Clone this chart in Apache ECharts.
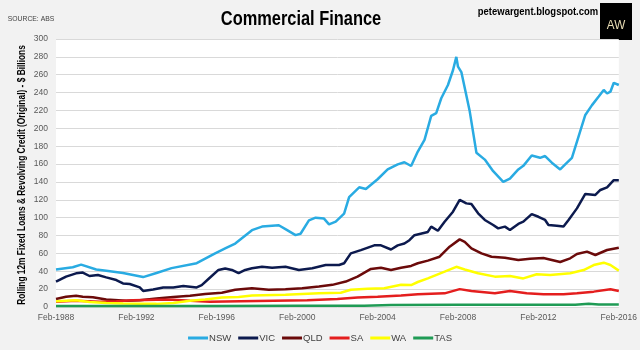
<!DOCTYPE html>
<html>
<head>
<meta charset="utf-8">
<script src="https://cdn.jsdelivr.net/npm/echarts@6/dist/echarts.min.js"></script>
<style>
  html, body { margin: 0; padding: 0; background: #f2f2f2; }
  #chart { width: 640px; height: 350px; }
</style>
</head>
<body>
<div id="chart"></div>
<script>
// x values are months since Feb-1988
const tickLabels = ["Feb-1988", "Feb-1992", "Feb-1996", "Feb-2000", "Feb-2004", "Feb-2008", "Feb-2012", "Feb-2016"];

const nsw = [
  [0, 42], [10, 44.5], [15, 47.5], [24, 42], [30, 40.5], [40, 38], [52, 33.5], [60, 38],
  [69, 43.5], [84, 49], [95, 60], [101, 65.5], [107, 71], [117, 86], [123, 90], [133, 91.5],
  [138, 86], [143, 80.5], [146, 82], [151, 97], [155, 100], [160, 99], [163, 92.5], [167, 95.5],
  [172, 104.6], [175, 123], [181, 134], [185, 132], [192, 143], [198, 154], [204, 159.6],
  [208, 162], [212, 157.8], [216, 174], [220, 187], [224, 214], [227, 217], [230, 233.7],
  [234, 248.5], [237, 265], [239, 280], [240, 269], [242, 263], [247, 219], [251, 172.6],
  [256, 165], [261, 152], [267, 140], [271, 143.7], [276, 154], [279, 158], [284, 169.6],
  [289, 167], [292, 169], [296, 161.5], [301, 154], [304, 159.6], [308, 167], [312, 191],
  [316, 215], [320, 226], [324, 235.6], [327, 243], [329, 239], [331, 241], [333, 251], [336, 248.5]
];
const vic = [
  [0, 28.3], [6, 34], [12, 37.7], [16, 38.5], [20, 34.7], [25, 35.8], [30, 33.2], [36, 30.2],
  [40, 26.4], [44, 25.7], [50, 21.9], [52, 18], [58, 19.6], [64, 21.9], [70, 21.9], [76, 23.4],
  [84, 21.9], [87, 24.5], [91, 31.3], [97, 41.5], [101, 43], [105, 41.5], [109, 37.8], [113, 41.5],
  [117, 43.3], [123, 45], [129, 44], [137, 45], [145, 41.5], [153, 43.3], [161, 47], [169, 47],
  [172, 49], [176, 60], [182, 63.7], [190, 69], [194, 69], [200, 64.4], [204, 69], [208, 71],
  [211, 74.8], [214, 80.4], [222, 84], [224, 90], [228, 85.4], [232, 95.5], [237, 106.7],
  [241, 119.8], [245, 116], [248, 115.3], [252, 104.9], [256, 97.4], [261, 91.8], [264, 88],
  [268, 90], [271, 86.2], [276, 93], [279, 95.5], [284, 104], [288, 101], [292, 97.4], [294, 91.8],
  [299, 91], [303, 90], [306, 97.4], [311, 110.4], [316, 126.5], [322, 125.4], [325, 131],
  [329, 134], [333, 142], [336, 142]
];
const qld = [
  [0, 9], [6, 11.5], [12, 12.5], [16, 11.5], [22, 11], [30, 8.5], [42, 7], [50, 7.5], [60, 9.4],
  [70, 11.3], [80, 12.5], [89, 14.5], [99, 16], [107, 19.3], [117, 21], [127, 19.3], [137, 20],
  [147, 21], [157, 23], [165, 24.8], [173, 28.5], [180, 34], [188, 42.6], [194, 44], [200, 41.5],
  [206, 44], [212, 46], [216, 49], [222, 51.9], [229, 56.3], [235, 67.5], [241, 75.7], [244, 73],
  [248, 65.7], [254, 60], [260, 56.3], [268, 55.2], [276, 52.6], [283, 54], [291, 54.8],
  [301, 50.4], [307, 54.5], [311, 59.3], [317, 62], [322, 58.2], [329, 63.8], [336, 66.4]
];
const sa = [
  [0, 6], [12, 7], [26, 6], [36, 6.5], [46, 7.5], [60, 8], [70, 8], [80, 7], [92, 6], [110, 6.5],
  [130, 7], [150, 7.5], [168, 9], [180, 10.5], [192, 11.6], [206, 13], [216, 14.2], [232, 15.3],
  [241, 20], [248, 18], [262, 15.3], [271, 18], [281, 15.3], [291, 14.2], [303, 14.2],
  [311, 15.3], [321, 17.2], [331, 19.8], [336, 18]
];
const wa = [
  [0, 6.5], [6, 7], [12, 7.5], [20, 5.5], [30, 4.5], [40, 3.8], [50, 3.5], [60, 3.5], [70, 4.5],
  [80, 7], [89, 8.5], [99, 10.6], [109, 11.3], [117, 13], [137, 13.7], [157, 15.5], [170, 16],
  [176, 19.3], [186, 20.4], [196, 21], [206, 24.8], [212, 24.6], [216, 28], [222, 32], [232, 39.5],
  [239, 45], [244, 42], [252, 37.7], [262, 34], [271, 34.7], [279, 32], [287, 36.6], [295, 35.8],
  [307, 37.7], [315, 41.4], [321, 47], [327, 49.6], [331, 47], [336, 40.7]
];
const tas = [
  [0, 1], [48, 1], [96, 1.2], [144, 1.3], [184, 1.5], [200, 2.3], [240, 2.5], [280, 2.5],
  [310, 2.6], [318, 3.6], [324, 2.8], [336, 2.8]
];

const names = ["NSW", "VIC", "QLD", "SA", "WA", "TAS"];
const colors = ["#29abe2", "#0c1a4e", "#6b0a0a", "#e41e1e", "#ffff00", "#1f9b55"];
const seriesData = [nsw, vic, qld, sa, wa, tas];

const font = "'Liberation Sans', Arial, sans-serif";
const chart = echarts.init(document.getElementById("chart"));

// narrow-looking text: squeeze along the reading direction
function narrowText(text, x, y, size, weight, color, squeeze, rotation) {
  return {
    type: "text",
    x,
    y,
    rotation: rotation || 0,
    scaleX: squeeze,
    style: {
      text,
      fill: color,
      font: weight + " " + size + "px " + font,
      align: "center",
      verticalAlign: "middle",
    },
  };
}

chart.setOption({
  backgroundColor: "#f2f2f2",
  animation: false,
  color: colors,
  graphic: [
    narrowText("Commercial Finance", 301, 19, 20, "bold", "#000", 0.82),
    narrowText("SOURCE: ABS", 31, 19, 8, "normal", "#404040", 0.85),
    narrowText("petewargent.blogspot.com", 538, 12, 11, "bold", "#000", 0.86),
    narrowText("Rolling 12m Fixed Loans & Revolving Credit (Original) - $ Billions",
      22, 175, 11, "bold", "#000", 0.76, Math.PI / 2),
    { type: "rect", shape: { x: 600, y: 3, width: 32, height: 37 }, style: { fill: "#000" } },
    narrowText("AW", 616, 25, 13, "normal", "#e8ddb5", 0.9),
  ],
  grid: {
    left: 56,
    right: 19,
    top: 39,
    bottom: 43,
    show: true,
    backgroundColor: "#fff",
    borderWidth: 0,
  },
  legend: {
    data: names,
    bottom: 2,
    left: "center",
    itemWidth: 20,
    itemHeight: 3,
    itemGap: 7,
    icon: "rect",
    textStyle: { fontFamily: font, fontSize: 9.5, color: "#404040", padding: [0, 0, 0, -4] },
  },
  xAxis: {
    type: "value",
    min: 0,
    max: 336,
    interval: 48,
    axisLine: { show: false },
    axisTick: { show: false },
    splitLine: { show: false },
    axisLabel: {
      fontFamily: font,
      fontSize: 8.5,
      color: "#595959",
      margin: 6,
      formatter: (v) => tickLabels[Math.round(v / 48)],
    },
  },
  yAxis: {
    type: "value",
    min: 0,
    max: 300,
    interval: 20,
    axisLine: { show: false },
    axisTick: { show: false },
    axisLabel: { fontFamily: font, fontSize: 8.5, color: "#595959", margin: 8 },
    splitLine: { lineStyle: { color: "#d9d9d9", width: 1 } },
  },
  series: names.map((name, i) => ({
    name,
    type: "line",
    data: seriesData[i],
    symbol: "none",
    lineStyle: { width: 2.5, color: colors[i] },
    itemStyle: { color: colors[i] },
  })),
});
</script>
</body>
</html>
